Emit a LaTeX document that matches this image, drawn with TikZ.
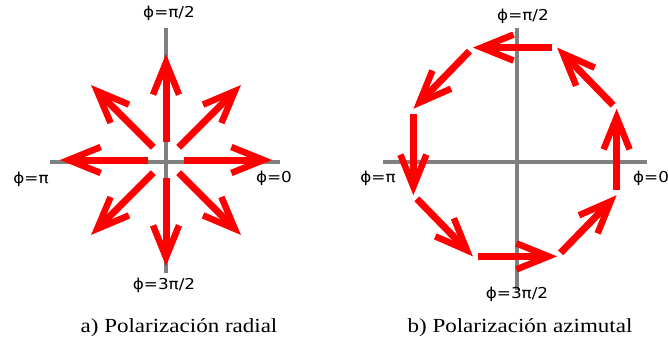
\documentclass[tikz,border=0pt]{standalone}
\usepackage{fontspec}
\setmainfont{Liberation Serif}
\newfontfamily\lblfont[FakeStretch=1.12]{DejaVu Sans}
\newfontfamily\capfont[FakeStretch=1.15]{Liberation Serif}
\usepackage{tikz}
\usetikzlibrary{arrows.meta}

\tikzset{
  axisline/.style={draw=gray, line width=4pt},
  polarrow/.style={draw=red, line width=7pt,
    -{Straight Barb[length=32pt,width=26pt,line width=6.5pt,line cap=butt,line join=miter]}},
  philabel/.style={font=\lblfont\fontsize{15}{18}\selectfont, inner sep=0pt},
  captext/.style={font=\capfont\fontsize{20}{24}\selectfont, inner sep=0pt, anchor=base},
}

\begin{document}
\begin{tikzpicture}[x=1pt, y=1pt]
\useasboundingbox (0,0) rectangle (668,-339);
\coordinate (O1) at (166,-160);
\coordinate (O2) at (515,-152);

\draw[axisline] (50,-162) -- (280,-162);
\draw[axisline] (166,-28) -- (166,-273);
\foreach \a in {0,45,...,315}
  \draw[polarrow, shift={(O1)}] (\a:18) -- (\a:106);

\draw[axisline] (383,-162) -- (647,-162);
\draw[axisline] (517,-28) -- (517,-290);
\foreach \a in {-22.5,22.5,...,292.5}
  \draw[polarrow, shift={(O2)}, shorten <=5pt] (\a:110 and 113) -- (\a+45:110 and 113);

\node[philabel] (ltop) at (169,-13) {ϕ=π/2};
\node[philabel] (lleft) at (31,-179) {ϕ=π};
\node[philabel] (lright) at (274,-178) {ϕ=0};
\node[philabel] (lbot) at (164,-285) {ϕ=3π/2};
\node[philabel] (rtop) at (523,-16) {ϕ=π/2};
\node[philabel] (rleft) at (378,-178) {ϕ=π};
\node[philabel] (rright) at (651,-178) {ϕ=0};
\node[philabel] (rbot) at (517,-294) {ϕ=3π/2};

\node[captext] (capa) at (179,-332) {a) Polarización radial};
\node[captext] (capb) at (520,-332) {b) Polarización azimutal};
\end{tikzpicture}
\end{document}
